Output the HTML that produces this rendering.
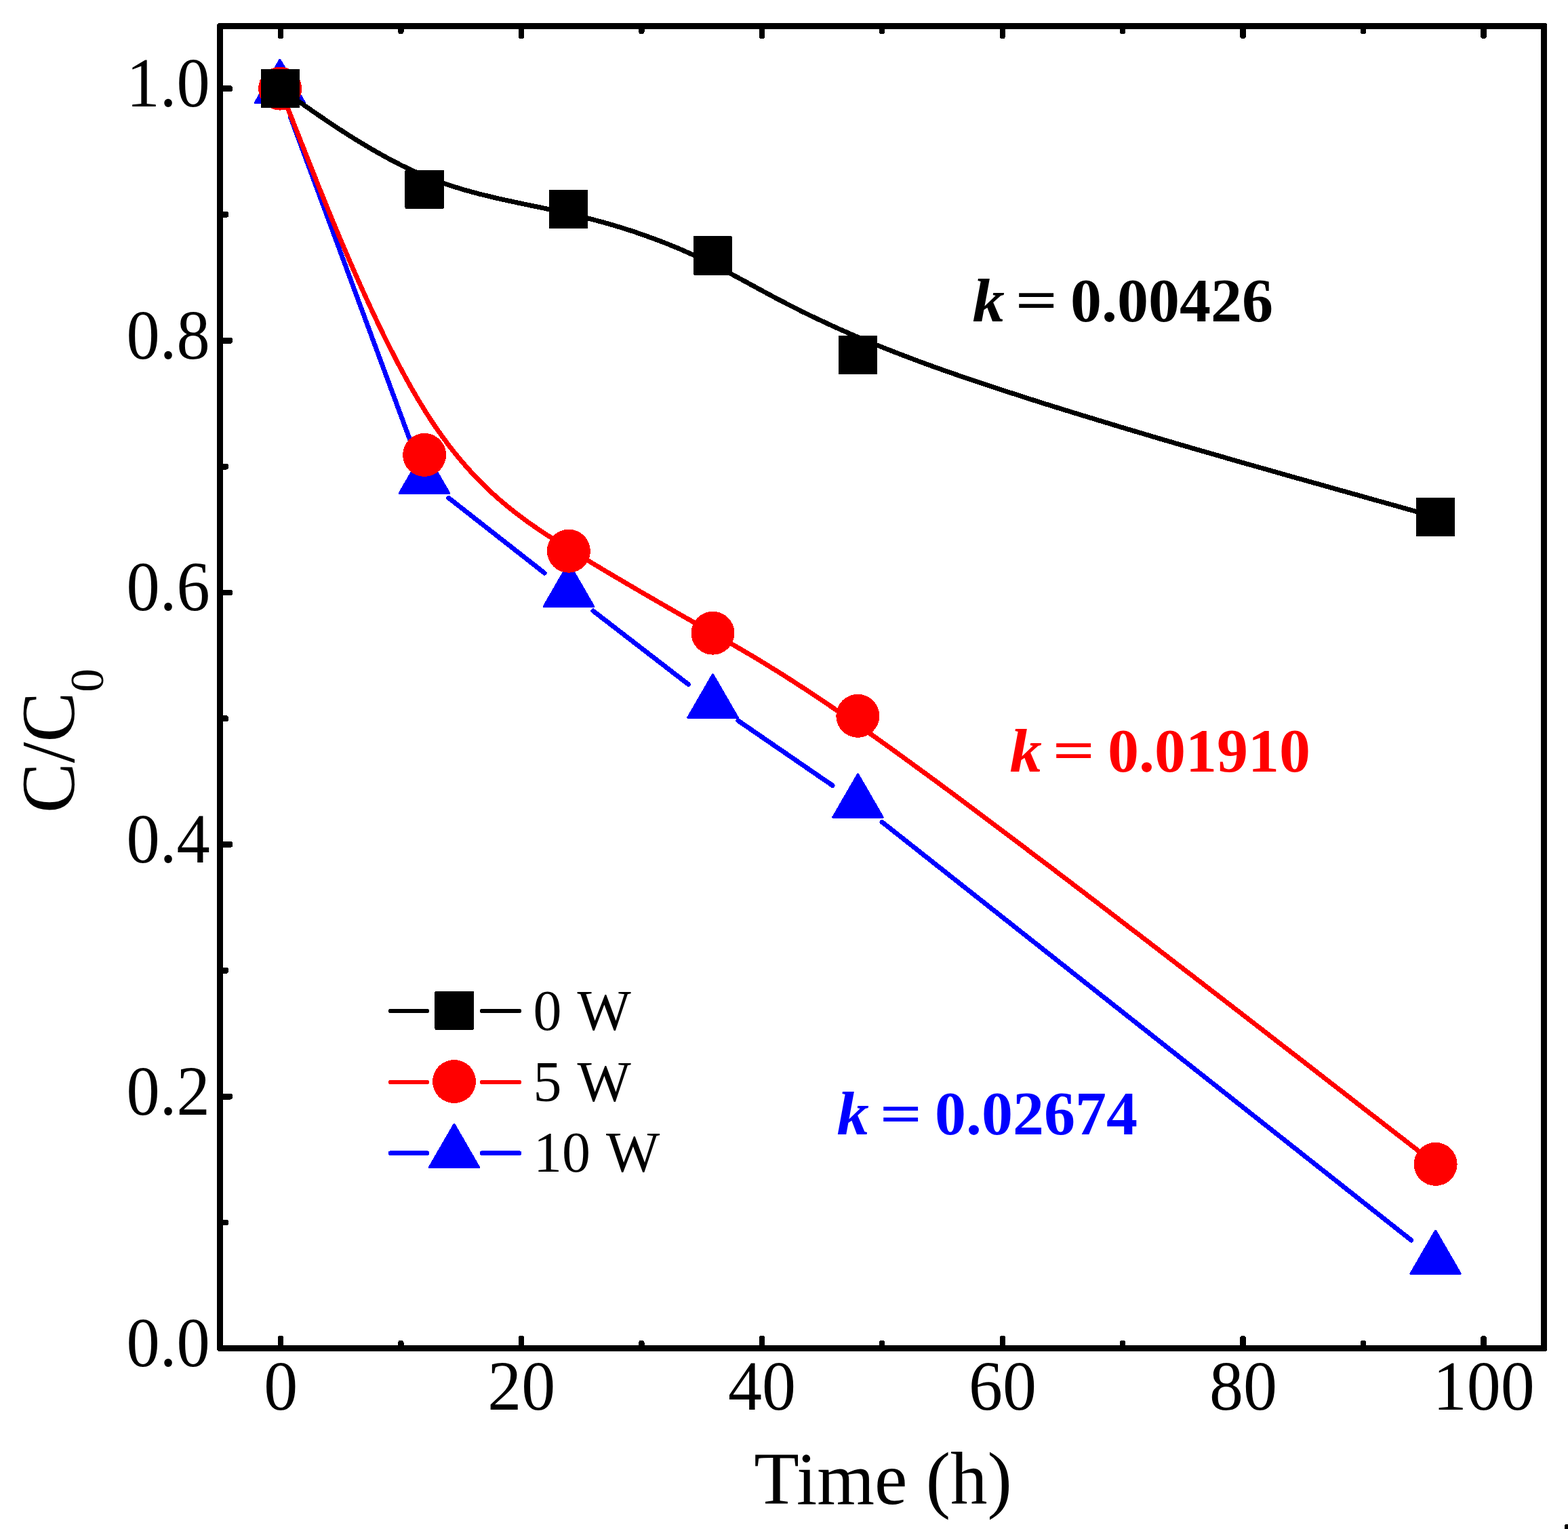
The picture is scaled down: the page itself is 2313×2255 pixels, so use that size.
<!DOCTYPE html>
<html><head><meta charset="utf-8"><title>C/C0 vs Time</title>
<style>html,body{margin:0;padding:0;background:#fff}body{width:2313px;height:2255px;overflow:hidden}svg{display:block}</style>
</head><body>
<svg width="2313" height="2255" viewBox="0 0 2313 2255" shape-rendering="crispEdges">
<rect width="2313" height="2255" fill="#fff"/>
<path d="M428.7 173.2L610.2 663.5M661.8 734.3L803.2 845.1M875.0 901.0L1015.4 1009.3M1088.9 1062.9L1228.0 1158.4M1301.2 1212.4L2081.9 1829.2" stroke="#00f" stroke-width="7" stroke-linecap="round" fill="none"/>
<path d="M412.9 88.4L449.4 151.6L376.4 151.6Z" fill="#00f" stroke="#00f" stroke-width="3.4" stroke-linejoin="round"/>
<path d="M626.0 664.1L662.5 727.3L589.5 727.3Z" fill="#00f" stroke="#00f" stroke-width="3.4" stroke-linejoin="round"/>
<path d="M839.0 831.1L875.5 894.3L802.5 894.3Z" fill="#00f" stroke="#00f" stroke-width="3.4" stroke-linejoin="round"/>
<path d="M1051.5 995.0L1088.0 1058.2L1015.0 1058.2Z" fill="#00f" stroke="#00f" stroke-width="3.4" stroke-linejoin="round"/>
<path d="M1265.5 1142.1L1302.0 1205.3L1229.0 1205.3Z" fill="#00f" stroke="#00f" stroke-width="3.4" stroke-linejoin="round"/>
<path d="M2117.6 1815.3L2154.1 1878.5L2081.1 1878.5Z" fill="#00f" stroke="#00f" stroke-width="3.4" stroke-linejoin="round"/>
<polyline points="413.1,130.6 413.1,130.6 413.1,130.7 413.2,130.8 413.3,131.0 413.4,131.4 413.7,132.0 414.0,132.8 414.4,133.9 415.0,135.3 415.7,137.1 416.5,139.3 417.5,141.9 418.7,144.9 420.1,148.5 421.8,152.6 423.6,157.3 425.7,162.6 428.1,168.6 430.7,175.3 433.6,182.7 436.9,190.9 440.4,200.0 444.3,209.9 448.6,220.6 453.2,232.4 458.2,244.9 463.5,258.3 469.1,272.5 475.1,287.2 481.3,302.6 487.8,318.5 494.6,334.9 501.6,351.7 508.9,368.8 516.4,386.2 524.0,403.7 531.9,421.4 539.9,439.1 548.1,456.8 556.4,474.5 564.8,491.9 573.4,509.2 582.0,526.2 590.7,542.8 599.5,559.0 608.3,574.8 617.2,589.9 626.1,604.5 634.9,618.4 643.8,631.6 652.7,644.1 661.5,656.1 670.4,667.5 679.3,678.3 688.2,688.6 697.0,698.4 705.9,707.7 714.8,716.5 723.6,725.0 732.5,733.1 741.4,740.8 750.2,748.1 759.1,755.2 768.0,761.9 776.8,768.5 785.7,774.7 794.5,780.8 803.4,786.8 812.3,792.5 821.1,798.2 830.0,803.7 838.9,809.2 847.7,814.7 856.6,820.1 865.5,825.5 874.3,830.9 883.2,836.2 892.0,841.5 900.9,846.8 909.8,852.0 918.6,857.2 927.5,862.4 936.4,867.6 945.2,872.8 954.1,877.9 963.0,883.1 971.8,888.2 980.7,893.3 989.6,898.4 998.4,903.5 1007.3,908.6 1016.2,913.6 1025.1,918.7 1033.9,923.8 1042.8,928.8 1051.7,933.9 1060.6,939.0 1069.5,944.1 1078.6,949.3 1087.7,954.6 1097.1,960.0 1106.7,965.7 1116.6,971.6 1126.8,977.8 1137.3,984.3 1148.3,991.1 1159.8,998.3 1171.7,1006.0 1184.2,1014.1 1197.4,1022.8 1211.1,1032.0 1225.6,1041.7 1240.8,1052.1 1256.7,1063.2 1273.6,1074.9 1291.2,1087.4 1309.9,1100.7 1329.4,1114.8 1350.0,1129.8 1371.7,1145.6 1394.5,1162.4 1418.2,1180.0 1442.8,1198.4 1468.3,1217.5 1494.4,1237.1 1521.0,1257.3 1548.2,1277.8 1575.7,1298.7 1603.4,1319.8 1631.3,1341.1 1659.1,1362.5 1687.0,1383.8 1714.6,1405.0 1741.9,1426.1 1768.9,1446.8 1795.3,1467.2 1821.1,1487.1 1846.2,1506.5 1870.5,1525.3 1893.8,1543.4 1916.1,1560.6 1937.2,1577.0 1957.0,1592.4 1975.5,1606.7 1992.5,1619.9 2008.1,1632.0 2022.4,1643.1 2035.3,1653.1 2047.1,1662.2 2057.6,1670.4 2067.1,1677.7 2075.5,1684.3 2082.9,1690.0 2089.4,1695.0 2095.0,1699.4 2099.8,1703.1 2103.9,1706.3 2107.3,1708.9 2110.1,1711.1 2112.3,1712.8 2114.0,1714.2 2115.3,1715.2 2116.3,1715.9 2116.9,1716.4 2117.3,1716.7 2117.5,1716.8 2117.5,1716.9 2117.6,1716.9" stroke="#f00" stroke-width="7" stroke-linecap="round" stroke-linejoin="round" fill="none"/>
<circle cx="413.1" cy="130.6" r="32" fill="#f00"/>
<circle cx="626.1" cy="670.9" r="32" fill="#f00"/>
<circle cx="838.9" cy="812.7" r="32" fill="#f00"/>
<circle cx="1051.5" cy="933.7" r="32" fill="#f00"/>
<circle cx="1265.3" cy="1055.8" r="32" fill="#f00"/>
<circle cx="2117.6" cy="1716.9" r="32" fill="#f00"/>
<polyline points="413.5,130.5 413.5,130.5 413.5,130.5 413.6,130.5 413.7,130.6 413.8,130.7 414.1,130.9 414.4,131.1 414.8,131.4 415.4,131.8 416.1,132.3 416.9,132.9 417.9,133.6 419.1,134.4 420.5,135.4 422.2,136.6 424.0,137.8 426.1,139.3 428.4,141.0 431.1,142.8 434.0,144.9 437.2,147.1 440.8,149.6 444.7,152.3 448.9,155.3 453.5,158.5 458.5,162.0 463.8,165.7 469.4,169.6 475.4,173.6 481.6,177.9 488.1,182.2 494.9,186.7 501.9,191.3 509.1,196.0 516.6,200.7 524.2,205.5 532.1,210.3 540.1,215.1 548.2,219.9 556.5,224.7 565.0,229.4 573.5,234.1 582.1,238.6 590.8,243.1 599.6,247.4 608.4,251.5 617.2,255.5 626.1,259.3 634.9,263.0 643.8,266.4 652.6,269.6 661.5,272.6 670.3,275.5 679.2,278.3 688.0,280.9 696.9,283.3 705.7,285.7 714.6,287.9 723.5,290.1 732.3,292.2 741.2,294.2 750.0,296.1 758.9,298.0 767.7,299.9 776.6,301.7 785.4,303.6 794.3,305.4 803.1,307.2 812.0,309.1 820.9,311.0 829.7,313.0 838.6,314.9 847.4,317.0 856.3,319.2 865.2,321.4 874.0,323.7 882.9,326.0 891.8,328.5 900.6,331.0 909.5,333.6 918.4,336.3 927.2,339.1 936.1,342.0 945.0,345.1 953.9,348.2 962.7,351.4 971.6,354.7 980.5,358.1 989.4,361.7 998.3,365.3 1007.1,369.1 1016.0,373.0 1024.9,377.0 1033.8,381.2 1042.7,385.4 1051.6,389.8 1060.5,394.4 1069.5,399.1 1078.5,403.9 1087.7,408.9 1097.1,414.0 1106.7,419.2 1116.6,424.6 1126.8,430.1 1137.3,435.8 1148.3,441.6 1159.8,447.6 1171.8,453.7 1184.3,460.0 1197.4,466.4 1211.2,472.9 1225.6,479.6 1240.8,486.5 1256.8,493.5 1273.7,500.7 1291.3,508.0 1310.0,515.5 1329.6,523.1 1350.2,530.9 1371.8,538.9 1394.6,547.0 1418.3,555.2 1443.0,563.6 1468.4,572.0 1494.5,580.5 1521.1,589.1 1548.3,597.7 1575.8,606.2 1603.5,614.7 1631.4,623.2 1659.2,631.6 1687.1,639.9 1714.7,648.1 1742.0,656.1 1769.0,663.9 1795.4,671.5 1821.2,679.0 1846.3,686.1 1870.5,693.0 1893.9,699.6 1916.1,705.9 1937.2,711.8 1957.1,717.4 1975.5,722.6 1992.6,727.4 2008.2,731.7 2022.4,735.7 2035.4,739.4 2047.1,742.6 2057.6,745.6 2067.1,748.2 2075.5,750.6 2082.9,752.7 2089.4,754.5 2095.0,756.1 2099.8,757.4 2103.9,758.6 2107.3,759.5 2110.1,760.3 2112.3,760.9 2114.0,761.4 2115.3,761.8 2116.3,762.0 2116.9,762.2 2117.3,762.3 2117.5,762.4 2117.5,762.4 2117.6,762.4" stroke="#000" stroke-width="7" stroke-linecap="round" stroke-linejoin="round" fill="none"/>
<rect x="384.8" y="101.8" width="57.5" height="57.5" rx="2" fill="#000"/>
<rect x="597.4" y="250.6" width="57.5" height="57.5" rx="2" fill="#000"/>
<rect x="809.8" y="279.6" width="57.5" height="57.5" rx="2" fill="#000"/>
<rect x="1022.7" y="348.1" width="57.5" height="57.5" rx="2" fill="#000"/>
<rect x="1236.8" y="494.8" width="57.5" height="57.5" rx="2" fill="#000"/>
<rect x="2088.8" y="733.6" width="57.5" height="57.5" rx="2" fill="#000"/>
<path d="M322.0 34.0H2280.0L2282.0 36.0V1991.0L2280.0 1993.0H322.0L320.0 1991.0V36.0ZM329.0 43.0V1984.0H2273.0V43.0Z" fill="#000" fill-rule="evenodd"/>
<rect x="409.8" y="1970.0" width="8.4" height="19" rx="3.2" fill="#000"/>
<rect x="409.8" y="38.5" width="8.4" height="18.5" rx="3.2" fill="#000"/>
<rect x="587.2" y="1977.0" width="8.4" height="12" rx="3.2" fill="#000"/>
<rect x="587.2" y="38.5" width="8.4" height="11.5" rx="3.2" fill="#000"/>
<rect x="764.7" y="1970.0" width="8.4" height="19" rx="3.2" fill="#000"/>
<rect x="764.7" y="38.5" width="8.4" height="18.5" rx="3.2" fill="#000"/>
<rect x="942.2" y="1977.0" width="8.4" height="12" rx="3.2" fill="#000"/>
<rect x="942.2" y="38.5" width="8.4" height="11.5" rx="3.2" fill="#000"/>
<rect x="1119.6" y="1970.0" width="8.4" height="19" rx="3.2" fill="#000"/>
<rect x="1119.6" y="38.5" width="8.4" height="18.5" rx="3.2" fill="#000"/>
<rect x="1297.0" y="1977.0" width="8.4" height="12" rx="3.2" fill="#000"/>
<rect x="1297.0" y="38.5" width="8.4" height="11.5" rx="3.2" fill="#000"/>
<rect x="1474.5" y="1970.0" width="8.4" height="19" rx="3.2" fill="#000"/>
<rect x="1474.5" y="38.5" width="8.4" height="18.5" rx="3.2" fill="#000"/>
<rect x="1652.0" y="1977.0" width="8.4" height="12" rx="3.2" fill="#000"/>
<rect x="1652.0" y="38.5" width="8.4" height="11.5" rx="3.2" fill="#000"/>
<rect x="1829.4" y="1970.0" width="8.4" height="19" rx="3.2" fill="#000"/>
<rect x="1829.4" y="38.5" width="8.4" height="18.5" rx="3.2" fill="#000"/>
<rect x="2006.9" y="1977.0" width="8.4" height="12" rx="3.2" fill="#000"/>
<rect x="2006.9" y="38.5" width="8.4" height="11.5" rx="3.2" fill="#000"/>
<rect x="2184.3" y="1970.0" width="8.4" height="19" rx="3.2" fill="#000"/>
<rect x="2184.3" y="38.5" width="8.4" height="18.5" rx="3.2" fill="#000"/>
<rect x="324.5" y="1984.3" width="18.5" height="8.8" rx="3.2" fill="#000"/>
<rect x="324.5" y="1798.5" width="12.5" height="8.8" rx="3.2" fill="#000"/>
<rect x="324.5" y="1612.7" width="18.5" height="8.8" rx="3.2" fill="#000"/>
<rect x="324.5" y="1426.9" width="12.5" height="8.8" rx="3.2" fill="#000"/>
<rect x="324.5" y="1241.1" width="18.5" height="8.8" rx="3.2" fill="#000"/>
<rect x="324.5" y="1055.3" width="12.5" height="8.8" rx="3.2" fill="#000"/>
<rect x="324.5" y="869.5" width="18.5" height="8.8" rx="3.2" fill="#000"/>
<rect x="324.5" y="683.7" width="12.5" height="8.8" rx="3.2" fill="#000"/>
<rect x="324.5" y="497.9" width="18.5" height="8.8" rx="3.2" fill="#000"/>
<rect x="324.5" y="312.1" width="12.5" height="8.8" rx="3.2" fill="#000"/>
<rect x="324.5" y="126.3" width="18.5" height="8.8" rx="3.2" fill="#000"/>
<text font-family="Liberation Serif, serif" font-size="100" fill="#000" text-anchor="middle" transform="translate(414.3,2079.0) scale(1,1.045)" xml:space="preserve" >0</text>
<text font-family="Liberation Serif, serif" font-size="100" fill="#000" text-anchor="middle" transform="translate(769.2,2079.0) scale(1,1.045)" xml:space="preserve" >20</text>
<text font-family="Liberation Serif, serif" font-size="100" fill="#000" text-anchor="middle" transform="translate(1124.1,2079.0) scale(1,1.045)" xml:space="preserve" >40</text>
<text font-family="Liberation Serif, serif" font-size="100" fill="#000" text-anchor="middle" transform="translate(1479.0,2079.0) scale(1,1.045)" xml:space="preserve" >60</text>
<text font-family="Liberation Serif, serif" font-size="100" fill="#000" text-anchor="middle" transform="translate(1833.9,2079.0) scale(1,1.045)" xml:space="preserve" >80</text>
<text font-family="Liberation Serif, serif" font-size="100" fill="#000" text-anchor="middle" transform="translate(2188.8,2079.0) scale(1,1.045)" xml:space="preserve" >100</text>
<text font-family="Liberation Serif, serif" font-size="100" fill="#000" text-anchor="end" transform="translate(309.7,2015.1) scale(0.985,1.045)" xml:space="preserve" >0.0</text>
<text font-family="Liberation Serif, serif" font-size="100" fill="#000" text-anchor="end" transform="translate(309.7,1643.5) scale(0.985,1.045)" xml:space="preserve" >0.2</text>
<text font-family="Liberation Serif, serif" font-size="100" fill="#000" text-anchor="end" transform="translate(309.7,1271.9) scale(0.985,1.045)" xml:space="preserve" >0.4</text>
<text font-family="Liberation Serif, serif" font-size="100" fill="#000" text-anchor="end" transform="translate(309.7,900.3) scale(0.985,1.045)" xml:space="preserve" >0.6</text>
<text font-family="Liberation Serif, serif" font-size="100" fill="#000" text-anchor="end" transform="translate(309.7,528.7) scale(0.985,1.045)" xml:space="preserve" >0.8</text>
<text font-family="Liberation Serif, serif" font-size="100" fill="#000" text-anchor="end" transform="translate(309.7,157.1) scale(0.985,1.045)" xml:space="preserve" >1.0</text>
<text font-family="Liberation Serif, serif" font-size="108.5" fill="#000" text-anchor="middle" transform="translate(1302.5,2218.4) scale(1.005,1.02)" xml:space="preserve" >Time (h)</text>
<text font-family="Liberation Serif, serif" font-size="108.5" fill="#000" text-anchor="start" transform="translate(109.0,1199.0) rotate(-90) scale(1.02,1.03)" xml:space="preserve" >C/C<tspan font-size="68" dy="41.5">0</tspan></text>
<text font-family="Liberation Serif, serif" font-size="92" fill="#000" text-anchor="start" transform="translate(1434.5,474.0) scale(1.03,1)" xml:space="preserve" font-weight="bold" font-style="italic">k</text><text font-family="Liberation Serif, serif" font-size="92" fill="#000" text-anchor="middle" transform="translate(1528.9,470.4) scale(1.19,0.87)" xml:space="preserve" font-weight="bold">=</text><text font-family="Liberation Serif, serif" font-size="92" fill="#000" text-anchor="start" transform="translate(1579.0,474.0)" xml:space="preserve" font-weight="bold">0.00426</text>
<text font-family="Liberation Serif, serif" font-size="92" fill="#f00" text-anchor="start" transform="translate(1489.5,1138.0) scale(1.03,1)" xml:space="preserve" font-weight="bold" font-style="italic">k</text><text font-family="Liberation Serif, serif" font-size="92" fill="#f00" text-anchor="middle" transform="translate(1583.9,1134.4) scale(1.19,0.87)" xml:space="preserve" font-weight="bold">=</text><text font-family="Liberation Serif, serif" font-size="92" fill="#f00" text-anchor="start" transform="translate(1634.0,1138.0)" xml:space="preserve" font-weight="bold">0.01910</text>
<text font-family="Liberation Serif, serif" font-size="92" fill="#00f" text-anchor="start" transform="translate(1234.5,1673.3) scale(1.03,1)" xml:space="preserve" font-weight="bold" font-style="italic">k</text><text font-family="Liberation Serif, serif" font-size="92" fill="#00f" text-anchor="middle" transform="translate(1328.9,1669.7) scale(1.19,0.87)" xml:space="preserve" font-weight="bold">=</text><text font-family="Liberation Serif, serif" font-size="92" fill="#00f" text-anchor="start" transform="translate(1379.0,1673.3)" xml:space="preserve" font-weight="bold">0.02674</text>
<path d="M576.3 1491.0H629.7M711.3 1491.0H765.7" stroke="#000" stroke-width="6.8" stroke-linecap="round"/>
<text font-family="Liberation Serif, serif" font-size="84" fill="#000" text-anchor="start" transform="translate(786.5,1518.5) scale(1,1.01)" xml:space="preserve" word-spacing="3.5">0 W</text>
<path d="M576.3 1596.0H629.7M711.3 1596.0H765.7" stroke="#f00" stroke-width="6.8" stroke-linecap="round"/>
<text font-family="Liberation Serif, serif" font-size="84" fill="#000" text-anchor="start" transform="translate(786.5,1623.8) scale(1,1.01)" xml:space="preserve" word-spacing="3.5">5 W</text>
<path d="M576.3 1700.6H629.7M711.3 1700.6H765.7" stroke="#00f" stroke-width="6.8" stroke-linecap="round"/>
<text font-family="Liberation Serif, serif" font-size="84" fill="#000" text-anchor="start" transform="translate(787.0,1727.5) scale(1,1.01)" xml:space="preserve" word-spacing="3.5">10 W</text>
<rect x="641.45" y="1461.55" width="57.5" height="57.5" rx="2" fill="#000"/>
<circle cx="670" cy="1595" r="32" fill="#f00"/>
<path d="M670.0 1658.5L706.5 1721.7L633.5 1721.7Z" fill="#00f" stroke="#00f" stroke-width="3.4" stroke-linejoin="round"/>
<rect x="2308" y="2248" width="8" height="10" rx="3" fill="#000"/>
</svg>
</body></html>
